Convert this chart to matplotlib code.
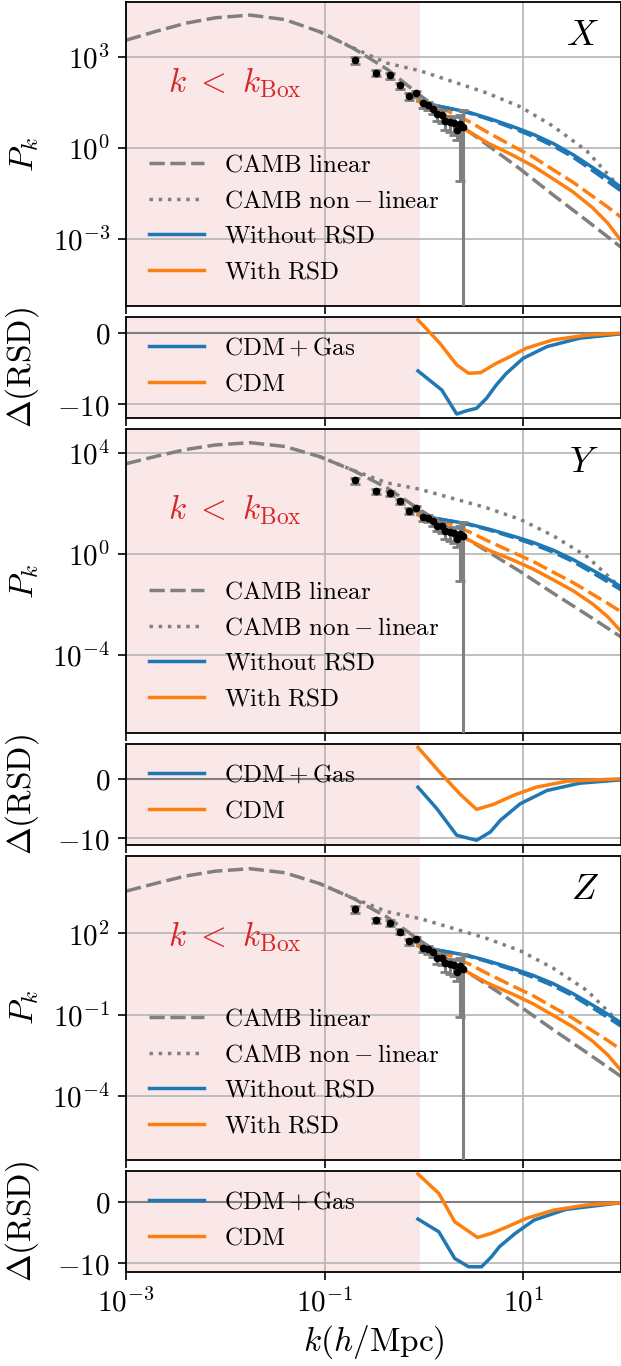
"""Power spectrum per line-of-sight axis (X, Y, Z) with RSD residual panels."""

import numpy as np
import matplotlib

matplotlib.use("Agg")
import matplotlib.pyplot as plt  # noqa: E402

plt.rcParams.update({
    "mathtext.fontset": "cm",
    "font.family": "serif",
    "axes.linewidth": 1.3,
})

# ---- data (log10 values) ----
K_BOX = 0.91
LOGK_MAX = 1.985

logk_camb = [-3.0, -2.7, -2.4, -2.1, -1.75, -1.4, -1.05, -0.71, -0.37, -0.04,
             0.30, 0.63, 0.97, 1.30, 1.64, 1.985]
logp_lin = [3.56, 3.85, 4.12, 4.30, 4.39, 4.24, 3.84, 3.29, 2.60, 1.74,
            0.90, 0.12, -0.70, -1.55, -2.40, -3.28]

logk_nl = [-1.05, -0.71, -0.37, -0.04, 0.30, 0.63, 0.97, 1.30, 1.64, 1.985]
logp_nl = [3.84, 3.30, 2.80, 2.55, 2.18, 1.82, 1.36, 0.72, -0.10, -1.35]

logk_sim = [-0.06, 0.15, 0.30, 0.45, 0.65, 0.90, 1.10, 1.30, 1.50, 1.70, 1.85, 1.985]
logp_norsd = [1.55, 1.38, 1.28, 1.18, 0.98, 0.70, 0.45, 0.15, -0.22, -0.65, -0.98, -1.30]
logp_norsd_cdm = [1.55, 1.37, 1.27, 1.16, 0.95, 0.65, 0.38, 0.07, -0.30, -0.75, -1.10, -1.42]
logp_rsd = [1.55, 1.25, 0.85, 0.55, 0.15, -0.25, -0.60, -1.02, -1.45, -1.98, -2.48, -3.06]
logp_rsd_cdm = [1.55, 1.35, 1.12, 0.88, 0.50, 0.05, -0.30, -0.72, -1.13, -1.60, -1.95, -2.29]

logk_pts = [-0.69, -0.48, -0.34, -0.24, -0.15, -0.08, -0.01, 0.04, 0.09, 0.13,
            0.18, 0.21, 0.26, 0.30, 0.33, 0.36, 0.39]
logp_pts = [2.90, 2.48, 2.40, 2.07, 1.71, 1.80, 1.47, 1.41, 1.30, 1.11,
            1.08, 0.89, 0.86, 0.82, 0.58, 0.80, 0.69]
err_frac = [0.28, 0.22, 0.22, 0.22, 0.25, 0.22, 0.3, 0.3, 0.35, 0.4,
            0.45, 0.5, 0.55, 0.6, 0.53, 0.987, 2.6]

panels = ["X", "Y", "Z"]
pk_yticks = [[3, 0, -3], [4, 0, -4], [2, -1, -4]]
pk_ylims = [(-5.22, 4.82), (-7.07, 4.93), (-6.36, 4.86)]
delta_ylims = [(-11.97, 2.25), (-11.1, 5.88), (-11.4, 5.03)]

delta_gas_k = [
    [-0.06, 0.18, 0.33, 0.43, 0.53, 0.63, 0.73, 0.83, 1.0, 1.24, 1.57, 1.985],
    [-0.06, 0.13, 0.33, 0.53, 0.67, 0.77, 0.97, 1.24, 1.57, 1.985],
    [-0.06, 0.15, 0.31, 0.45, 0.58, 0.68, 0.76, 0.92, 1.11, 1.43, 1.985],
]
delta_gas = [
    [-5.35, -8.03, -11.4, -10.94, -10.6, -9.2, -7.3, -5.7, -3.57, -1.93, -0.75, -0.14],
    [-1.4, -5.0, -9.45, -10.3, -8.9, -6.95, -4.17, -1.95, -0.73, -0.17],
    [-2.81, -4.87, -9.2, -10.55, -10.55, -8.93, -7.3, -5.13, -2.97, -1.24, -0.16],
]
delta_cdm_k = [
    [-0.06, 0.16, 0.33, 0.45, 0.57, 0.73, 0.87, 1.03, 1.30, 1.64, 1.985],
    [-0.06, 0.16, 0.36, 0.53, 0.70, 0.90, 1.13, 1.44, 1.985],
    [-0.06, 0.15, 0.31, 0.54, 0.68, 0.84, 1.03, 1.31, 1.63, 1.985],
]
delta_cdm = [
    [1.83, -1.45, -4.5, -5.68, -5.59, -4.27, -3.33, -2.16, -0.99, -0.33, -0.05],
    [5.27, 1.1, -2.5, -5.12, -4.28, -2.78, -1.4, -0.4, 0.0],
    [4.5, 1.36, -3.25, -5.79, -5.13, -4.06, -2.7, -1.35, -0.54, -0.16],
]


def p10(v):
    return 10.0 ** np.asarray(v)


fig = plt.figure(figsize=(6.21, 13.66), dpi=100)
gs = fig.add_gridspec(6, 1, height_ratios=[3, 1, 3, 1, 3, 1], hspace=0.054,
                      left=0.203, right=1.0, top=0.9985, bottom=0.0688)
axes = []
for i in range(6):
    axes.append(fig.add_subplot(gs[i], sharex=axes[0] if axes else None))

kp = p10(logk_pts)
pp = p10(logp_pts)
yerr = pp * np.array(err_frac)
DASH = (4.4, 1.6)

for j, name in enumerate(panels):
    ax = axes[2 * j]
    ad = axes[2 * j + 1]

    ax.plot(p10(logk_camb), p10(logp_lin), ls="--", dashes=DASH, color="gray", lw=2.5,
            label=r"$\mathrm{CAMB\ linear}$")
    ax.plot(p10(logk_nl), p10(logp_nl), ls=":", color="gray", lw=2.5,
            label=r"$\mathrm{CAMB\ non} - \mathrm{linear}$")
    ax.plot(p10(logk_sim), p10(logp_norsd_cdm), ls="--", dashes=DASH, color="tab:blue", lw=2.5)
    ax.plot(p10(logk_sim), p10(logp_rsd_cdm), ls="--", dashes=DASH, color="tab:orange", lw=2.5)
    ax.plot(p10(logk_sim), p10(logp_norsd), color="tab:blue", lw=2.5, label=r"$\mathrm{Without\ RSD}$")
    ax.plot(p10(logk_sim), p10(logp_rsd), color="tab:orange", lw=2.5, label=r"$\mathrm{With\ RSD}$")
    ax.errorbar(kp, pp, yerr=yerr, fmt="o", color="black", ms=4.5, ecolor="gray",
                elinewidth=2.2, capsize=3.5, capthick=2, zorder=4)
    ax.set_yscale("log")
    ax.set_ylim(p10(pk_ylims[j][0]), p10(pk_ylims[j][1]))
    ax.set_yticks(p10(pk_yticks[j]))
    ax.set_yticklabels([rf"$10^{{{t}}}$" for t in pk_yticks[j]])
    ax.set_ylabel(r"$P_k$", fontsize=24, labelpad=8)
    ax.legend(loc="lower left", frameon=False, fontsize=18, handlelength=2.2)
    ax.text(0.085, 0.735, r"$k\ <\ k_{\mathrm{Box}}$", transform=ax.transAxes,
            color="tab:red", fontsize=24, va="center")
    ax.text(0.955, 0.89, rf"${name}$", transform=ax.transAxes, ha="right",
            va="center", fontsize=26)

    ad.plot(p10(delta_gas_k[j]), delta_gas[j], color="tab:blue", lw=2.5,
            label=r"$\mathrm{CDM} + \mathrm{Gas}$")
    ad.plot(p10(delta_cdm_k[j]), delta_cdm[j], color="tab:orange", lw=2.5, label=r"$\mathrm{CDM}$")
    ad.axhline(0, color="gray", lw=1.5, zorder=1.8)
    ad.set_ylim(*delta_ylims[j])
    ad.set_yticks([0, -10])
    ad.set_yticklabels([r"$0$", r"$-10$"])
    ad.set_ylabel(r"$\Delta(\mathrm{RSD})$", fontsize=24, labelpad=8)
    ad.legend(loc="lower left", frameon=False, fontsize=18, handlelength=2.2)

for ax in axes:
    ax.axvspan(1e-3, K_BOX, color="tab:red", alpha=0.1, lw=0, zorder=0.5)
    ax.grid(True, color="#b5b5b5", lw=1.2)
    ax.tick_params(labelsize=21, length=5.5, width=1.2, pad=6, which="major")
    ax.set_xscale("log")
    if ax is not axes[-1]:
        ax.tick_params(labelbottom=False)

axes[0].set_xlim(1e-3, 10 ** LOGK_MAX)
axes[-1].set_xticks([1e-3, 1e-1, 1e1])
axes[-1].set_xticklabels([r"$10^{-3}$", r"$10^{-1}$", r"$10^{1}$"])
axes[-1].set_xlabel(r"$k(h/\mathrm{Mpc})$", fontsize=24)
for ax in axes:
    ax.minorticks_off()
fig.align_ylabels(axes)

fig.savefig("out.png", dpi=100)
plt.close(fig)
